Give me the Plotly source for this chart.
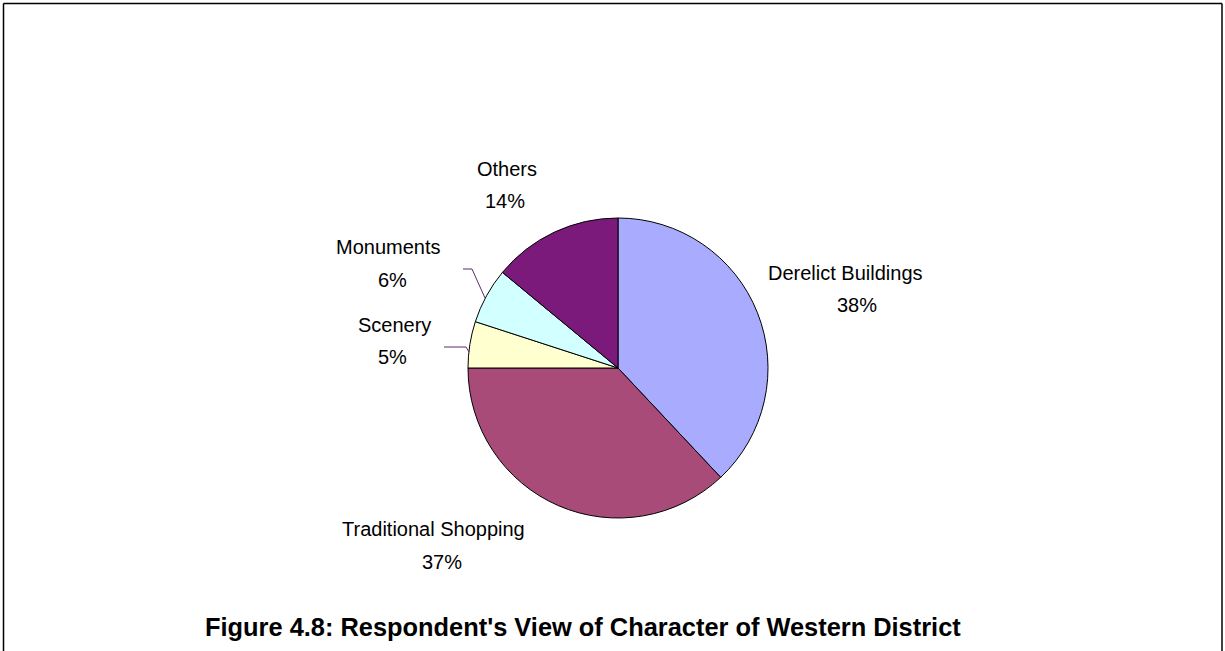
import plotly.graph_objects as go

categories = ["Derelict Buildings", "Traditional Shopping", "Scenery", "Monuments", "Others"]
values = [38, 37, 5, 6, 14]
colors = ["#A9ABFF", "#A84B78", "#FFFFD0", "#D2FFFF", "#7B1A7A"]
title_text = "Figure 4.8: Respondent's View of Character of Western District"

W, H = 1225, 651

def px(x):
    return x / W

def py(y):
    return 1 - y / H

# label placement (pixel centres / baselines), name then percentage
label_pos = {
    "Derelict Buildings": ((845, 280), (857, 312)),
    "Traditional Shopping": ((433, 536), (442, 569)),
    "Scenery": ((394, 332), (392, 364)),
    "Monuments": ((388, 254), (392, 287)),
    "Others": ((507, 176), (505, 208)),
}

total = sum(values)
fig = go.Figure()
fig.add_trace(go.Pie(
    labels=categories,
    values=values,
    sort=False,
    direction="clockwise",
    rotation=0,
    marker=dict(colors=colors, line=dict(color="#000000", width=1)),
    textinfo="none",
    hoverinfo="label+percent",
    showlegend=False,
    domain=dict(x=[px(468), px(768)], y=[py(518), py(218)]),
))

FS = 20
annotations = []
for cat, val in zip(categories, values):
    (nx, ny), (pxx, pyy) = label_pos[cat]
    pct = f"{round(100 * val / total)}%"
    for text, (x, y) in ((cat, (nx, ny)), (pct, (pxx, pyy))):
        annotations.append(dict(
            x=px(x), y=py(y - 7), xref="paper", yref="paper",
            text=text, showarrow=False, xanchor="center", yanchor="middle",
            font=dict(family="Liberation Sans, Arial", size=FS, color="#000000"),
        ))

annotations.append(dict(
    x=px(583), y=py(635 - 8), xref="paper", yref="paper",
    text="<b>" + title_text + "</b>", showarrow=False,
    xanchor="center", yanchor="middle",
    font=dict(family="Liberation Sans, Arial", size=25.4, color="#000000"),
))

shapes = [
    # chart frame
    dict(type="line", xref="paper", yref="paper", x0=px(3.5), x1=px(3.5), y0=py(3.5), y1=py(660),
         line=dict(color="#000000", width=1.5)),
    dict(type="line", xref="paper", yref="paper", x0=px(3.5), x1=px(1222), y0=py(3.5), y1=py(3.5),
         line=dict(color="#000000", width=1.5)),
    dict(type="line", xref="paper", yref="paper", x0=px(1222), x1=px(1222), y0=py(3.5), y1=py(660),
         line=dict(color="#000000", width=1.5)),
    # leader lines
    dict(type="path", xref="paper", yref="paper",
         path=f"M {px(463)},{py(269)} L {px(472)},{py(269)} L {px(485)},{py(298)}",
         line=dict(color="#5A2A6A", width=1)),
    dict(type="path", xref="paper", yref="paper",
         path=f"M {px(444)},{py(347)} L {px(466)},{py(347)} L {px(469)},{py(352)}",
         line=dict(color="#5A2A6A", width=1)),
]

fig.update_layout(
    width=W, height=H,
    margin=dict(l=0, r=0, t=0, b=0),
    paper_bgcolor="#FFFFFF",
    plot_bgcolor="#FFFFFF",
    annotations=annotations,
    shapes=shapes,
)

fig.write_html(
    "out.html",
    config={"displayModeBar": False},
    post_script="document.body.style.margin='0';document.body.style.overflow='hidden';",
)
